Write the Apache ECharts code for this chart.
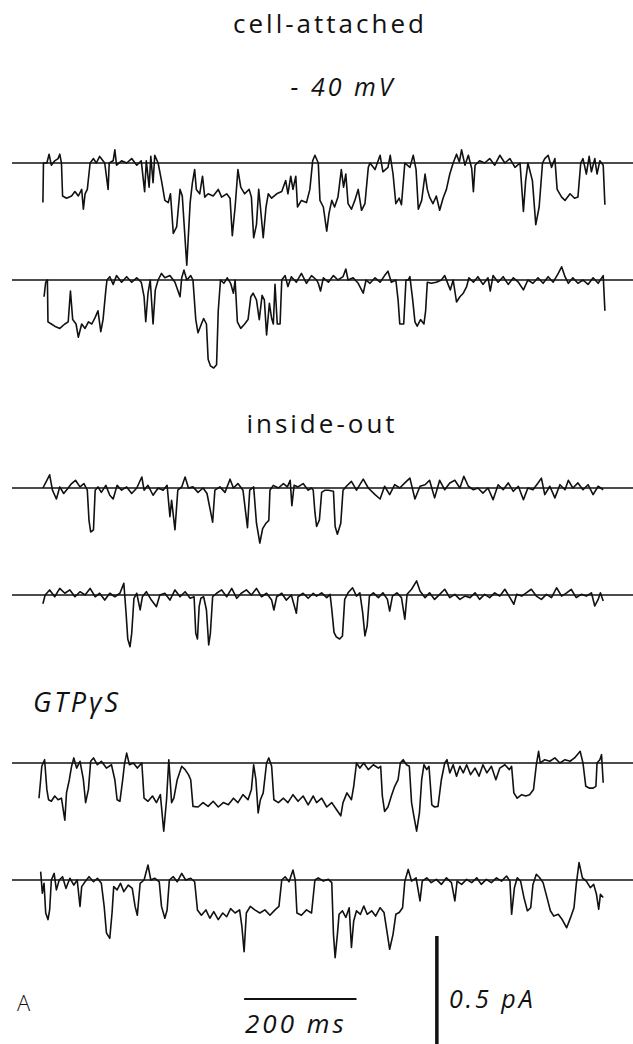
<!DOCTYPE html>
<html>
<head>
<meta charset="utf-8">
<script src="https://cdn.jsdelivr.net/npm/echarts@6/dist/echarts.min.js"></script>
<style>
  html, body { margin: 0; padding: 0; background: #fff; }
  #chart { width: 633px; height: 1044px; }
  /* the figure's lettering is widely tracked */
  #chart text { letter-spacing: 3px; }
</style>
</head>
<body>
<div id="chart"></div>
<script>
/** single-channel current traces: [time (ms), current (pA)] */
const cellAttached1 = [[0,-0.18],[1,0],[7,0],[11,0.04],[15,-0.01],[21,0.01],[27,0.02],[30,0.04],[33,0],[35,-0.15],[42,-0.16],[51,-0.15],[57,-0.13],[63,-0.15],[69,-0.12],[72,-0.21],[75,-0.14],[79,-0.12],[84,0],[90,0.02],[95,0],[101,0.03],[110,0],[116,-0.12],[118,0],[125,0.01],[128,0.06],[131,-0.01],[140,0.01],[149,0],[158,0.02],[167,-0.01],[175,0.01],[181,-0.13],[184,0.01],[189,-0.11],[192,0.03],[196,-0.09],[199,0.035],[205,0],[211,-0.08],[217,-0.17],[223,-0.18],[227,-0.14],[232,-0.32],[238,-0.29],[244,-0.12],[248,-0.15],[256,-0.465],[262,-0.18],[266,-0.09],[270,-0.03],[273,-0.12],[279,-0.14],[284,-0.06],[288,-0.155],[294,-0.14],[303,-0.15],[312,-0.12],[318,-0.155],[327,-0.14],[333,-0.16],[337,-0.33],[342,-0.2],[347,-0.03],[352,-0.11],[359,-0.14],[367,-0.12],[371,-0.155],[375,-0.34],[380,-0.28],[384,-0.12],[387,-0.2],[392,-0.34],[397,-0.2],[401,-0.14],[407,-0.16],[416,-0.14],[425,-0.13],[432,-0.08],[436,-0.14],[441,-0.06],[445,-0.12],[450,-0.06],[453,-0.2],[460,-0.17],[469,-0.18],[475,-0.12],[480,0.01],[484,0.035],[490,0],[493,-0.17],[499,-0.2],[505,-0.31],[509,-0.23],[514,-0.17],[519,-0.2],[525,-0.155],[531,-0.03],[535,-0.11],[539,-0.05],[543,-0.185],[549,-0.21],[555,-0.17],[561,-0.12],[567,-0.215],[573,-0.185],[579,-0.02],[582,0],[591,-0.03],[600,0.035],[605,-0.04],[614,-0.02],[618,0.035],[623,-0.05],[628,-0.185],[634,-0.16],[638,-0.19],[644,0],[653,-0.02],[659,0.035],[664,-0.03],[668,-0.21],[674,-0.17],[680,-0.05],[684,-0.12],[688,-0.155],[694,-0.185],[700,-0.15],[706,-0.215],[712,-0.16],[718,-0.12],[724,-0.05],[730,0],[736,0.04],[741,0.005],[745,0.06],[751,-0.01],[757,0.035],[763,-0.025],[766,-0.13],[769,-0.01],[777,0.01],[786,0],[795,0.02],[804,-0.01],[813,0.035],[822,0],[831,0.02],[840,-0.02],[849,0],[855,-0.22],[859,-0.08],[863,0],[871,-0.08],[877,-0.28],[883,-0.2],[889,0],[893,0.02],[899,0.035],[905,-0.02],[911,0.02],[915,-0.12],[923,-0.155],[929,-0.17],[938,-0.14],[946,-0.16],[952,-0.155],[957,0],[961,0.02],[967,-0.05],[972,0.03],[976,-0.04],[982,0.02],[986,-0.05],[991,0.01],[997,-0.01],[1000,-0.19]];

const cellAttached2 = [[2,-0.076],[5,-0.01],[8,0],[9,-0.19],[15,-0.2],[21,-0.21],[30,-0.22],[39,-0.2],[45,-0.19],[49,-0.05],[53,-0.18],[59,-0.2],[63,-0.26],[69,-0.2],[75,-0.22],[81,-0.19],[87,-0.2],[93,-0.17],[98,-0.14],[103,-0.235],[107,-0.18],[112,-0.045],[114,0],[119,0.015],[125,-0.02],[131,0.02],[140,-0.01],[149,0.015],[158,-0.01],[167,0.01],[175,-0.01],[180,-0.076],[183,-0.19],[187,-0.06],[191,0],[196,-0.2],[200,-0.045],[205,0],[211,0.03],[217,0.01],[226,0.02],[235,-0.01],[244,-0.076],[247,0.01],[251,0.045],[256,0],[263,0.02],[267,0],[272,-0.18],[276,-0.24],[282,-0.2],[286,-0.175],[291,-0.2],[294,-0.36],[298,-0.39],[304,-0.4],[309,-0.385],[312,-0.14],[316,0],[322,-0.015],[328,0.01],[334,-0.015],[339,-0.06],[342,0],[346,-0.19],[352,-0.22],[359,-0.2],[365,-0.18],[370,-0.076],[374,-0.06],[380,-0.09],[385,-0.18],[390,-0.07],[394,-0.09],[398,-0.25],[403,-0.106],[407,-0.175],[410,-0.2],[413,-0.02],[417,-0.2],[422,-0.2],[425,0],[431,0.02],[436,-0.03],[442,0.015],[451,-0.01],[460,0.03],[469,-0.015],[478,0.02],[487,0],[490,-0.015],[494,-0.05],[499,0.01],[508,-0.01],[517,0.02],[525,0],[534,0.015],[539,0.05],[543,0],[552,0.01],[561,-0.015],[570,-0.06],[575,0],[582,-0.015],[591,0.01],[600,-0.01],[608,0.02],[614,0.04],[620,-0.01],[628,0],[632,-0.09],[635,-0.2],[642,-0.2],[646,0],[650,0],[653,0.015],[658,-0.09],[662,-0.19],[666,-0.21],[672,-0.18],[678,-0.2],[681,-0.14],[684,-0.01],[691,-0.015],[700,-0.01],[709,0],[715,0.02],[721,-0.02],[725,-0.045],[730,0],[736,-0.1],[742,-0.076],[748,-0.06],[754,-0.03],[758,0.01],[766,-0.01],[774,0.015],[783,-0.02],[792,0.01],[796,-0.05],[801,0.02],[810,-0.01],[819,0.015],[828,-0.02],[837,0.01],[846,-0.01],[855,-0.045],[863,0],[872,-0.015],[881,0.01],[890,-0.015],[899,0.015],[908,-0.01],[917,0.03],[923,0.06],[929,0.015],[935,-0.015],[943,0.01],[952,-0.015],[961,0],[970,-0.02],[979,0.01],[988,-0.015],[997,0.02],[1000,-0.14]];

const insideOut1 = [[0,0],[7,0.035],[12,0.06],[17,-0.01],[24,-0.05],[30,0.005],[37,-0.025],[45,0],[51,0.02],[58,0.035],[66,0.005],[73,0.02],[79,-0.01],[82,-0.147],[85,-0.2],[90,-0.19],[93,-0.01],[98,0.005],[104,-0.02],[112,0.012],[119,-0.033],[125,-0.05],[132,0.012],[140,-0.01],[149,0.005],[158,-0.025],[167,0],[176,0.05],[180,-0.01],[187,0.012],[196,-0.033],[205,0],[214,-0.01],[221,0.012],[226,-0.13],[229,-0.056],[235,-0.19],[240,-0.01],[247,0.005],[253,0.05],[259,0],[267,0.005],[276,-0.02],[285,0],[292,-0.025],[302,-0.155],[306,-0.01],[315,0.005],[324,-0.02],[333,0.04],[339,0],[347,0.02],[356,-0.01],[364,-0.18],[368,-0.01],[375,0.005],[380,-0.16],[386,-0.25],[391,-0.185],[397,-0.16],[402,-0.147],[404,-0.01],[410,0.012],[419,0],[428,0.02],[435,0.005],[440,0.035],[443,-0.08],[447,0.012],[454,0.005],[463,0.02],[472,-0.01],[478,0],[481,-0.01],[484,-0.11],[487,-0.175],[492,-0.145],[496,-0.02],[502,-0.01],[508,-0.01],[517,-0.015],[520,-0.175],[524,-0.21],[530,-0.16],[534,-0.01],[540,0.008],[549,0.03],[558,-0.01],[570,0.04],[579,0],[591,-0.03],[600,-0.05],[608,0.008],[617,-0.03],[626,0.015],[635,0],[644,0.023],[653,0.045],[662,-0.05],[671,0.008],[680,0.015],[688,0.035],[697,-0.045],[706,0.035],[715,-0.008],[724,0.023],[733,0.035],[742,0],[749,0.053],[757,0.008],[766,-0.008],[774,0],[783,-0.023],[792,0],[801,-0.053],[810,0.015],[819,-0.008],[828,0.023],[837,-0.015],[846,0.008],[855,-0.053],[863,0],[872,-0.008],[881,0.023],[887,0.045],[893,-0.03],[902,0.008],[911,-0.045],[920,0.015],[929,-0.008],[935,0.035],[943,0],[952,0.023],[961,-0.008],[970,0.015],[979,-0.03],[988,0.008],[997,-0.008]];

const insideOut2 = [[0,-0.04],[4,0],[12,0.023],[21,-0.008],[30,0.03],[39,0.008],[48,0.023],[57,-0.008],[66,0.015],[75,0],[84,0.03],[93,-0.008],[101,0.008],[110,-0.023],[119,0.008],[128,-0.008],[137,0.008],[144,0.053],[148,-0.083],[151,-0.2],[155,-0.235],[158,-0.174],[162,-0.015],[167,0.008],[173,-0.068],[177,-0.008],[184,0.015],[193,-0.023],[202,-0.053],[208,0],[217,0.008],[226,-0.023],[235,0.023],[244,-0.008],[253,0.015],[262,-0.015],[269,-0.008],[272,-0.174],[275,-0.2],[278,-0.053],[281,-0.015],[286,-0.008],[291,-0.068],[295,-0.227],[298,-0.174],[302,-0.008],[309,0.008],[318,0.023],[327,-0.008],[336,0.03],[345,-0.015],[353,0.008],[362,0.023],[371,0],[380,0.03],[389,-0.008],[398,0.008],[407,-0.023],[411,-0.068],[416,-0.008],[425,0.008],[433,-0.023],[442,0],[451,-0.083],[454,-0.008],[463,0.008],[472,-0.015],[481,0.008],[487,-0.005],[496,0.01],[505,-0.012],[511,0.003],[514,-0.065],[518,-0.17],[522,-0.19],[528,-0.2],[533,-0.186],[537,-0.02],[543,0.01],[551,0.033],[558,-0.005],[564,0.01],[569,-0.08],[573,-0.186],[577,-0.14],[581,-0.005],[588,0.01],[597,-0.012],[605,0.01],[613,-0.02],[617,-0.073],[622,-0.005],[630,0.01],[638,-0.012],[644,-0.11],[648,0.003],[656,0.026],[665,0.064],[671,0.018],[680,-0.012],[688,0.01],[697,-0.02],[706,0.003],[715,0.026],[724,-0.012],[733,0.003],[742,-0.02],[751,-0.005],[760,-0.012],[769,0.01],[777,-0.02],[786,0.003],[795,-0.012],[804,0.01],[813,-0.005],[822,0.026],[831,-0.012],[838,-0.042],[843,0.003],[852,-0.005],[860,0.01],[869,0.026],[878,-0.005],[887,-0.02],[896,0.003],[905,-0.012],[914,0.033],[923,-0.005],[932,0.01],[940,0.026],[949,-0.012],[958,0.003],[967,-0.005],[976,0.01],[982,-0.05],[988,-0.02],[992,0.01],[997,-0.027]];

const gtpGammaS1 = [[-7,-0.16],[-4,-0.076],[-2,-0.015],[3,0.015],[7,-0.12],[10,-0.167],[15,-0.174],[21,-0.15],[27,-0.167],[33,-0.16],[39,-0.26],[42,-0.136],[47,-0.076],[51,-0.015],[55,0.023],[60,-0.023],[66,0.008],[72,-0.076],[76,-0.18],[81,-0.12],[85,0.008],[90,0.023],[97,-0.008],[104,0.008],[113,-0.023],[122,-0.008],[128,-0.076],[132,-0.167],[137,-0.174],[142,-0.076],[145,-0.008],[149,0.045],[154,-0.008],[161,0],[168,-0.023],[176,0],[180,-0.16],[187,-0.174],[195,-0.15],[202,-0.18],[209,-0.144],[215,-0.31],[220,-0.167],[224,0.015],[229,-0.18],[233,-0.16],[239,-0.076],[247,-0.015],[253,-0.03],[259,-0.053],[263,-0.076],[267,-0.197],[276,-0.2],[285,-0.18],[294,-0.197],[303,-0.174],[312,-0.2],[321,-0.18],[330,-0.19],[339,-0.16],[347,-0.18],[356,-0.144],[365,-0.167],[371,-0.12],[375,-0.008],[379,-0.076],[383,-0.227],[387,-0.167],[392,-0.136],[398,0],[402,0.023],[407,-0.015],[411,-0.167],[419,-0.18],[428,-0.16],[436,-0.18],[445,-0.144],[454,-0.174],[463,-0.15],[472,-0.19],[481,-0.15],[487,-0.18],[496,-0.16],[505,-0.2],[514,-0.18],[522,-0.21],[530,-0.24],[534,-0.18],[541,-0.136],[549,-0.167],[553,-0.106],[558,0],[564,-0.023],[571,0],[579,-0.03],[588,-0.008],[597,-0.023],[601,-0.015],[604,-0.15],[608,-0.22],[614,-0.2],[620,-0.15],[626,-0.106],[632,-0.076],[636,0],[641,0.015],[647,-0.008],[652,-0.015],[656,-0.18],[660,-0.24],[665,-0.31],[670,-0.227],[674,-0.076],[678,-0.008],[683,-0.03],[687,-0.015],[692,-0.19],[697,-0.2],[703,-0.197],[709,-0.076],[715,0],[719,0.015],[724,-0.045],[730,-0.008],[736,-0.06],[742,-0.015],[748,-0.045],[754,-0.008],[761,-0.053],[769,-0.023],[776,-0.06],[783,-0.008],[790,-0.045],[798,-0.015],[806,-0.076],[813,-0.023],[822,-0.008],[830,-0.03],[834,-0.015],[838,-0.136],[844,-0.16],[852,-0.144],[859,-0.15],[866,-0.144],[873,-0.12],[878,-0.008],[882,0.053],[885,0],[893,0.015],[902,0.008],[911,0.023],[920,0],[929,0.015],[938,0.008],[946,0.023],[956,0.053],[961,0],[966,-0.106],[972,-0.114],[979,-0.114],[984,-0.106],[986,0],[991,0.015],[994,0.038],[997,-0.09]];

const gtpGammaS2 = [[-4,0.038],[-1,-0.06],[2,-0.015],[5,-0.15],[9,-0.18],[12,-0.136],[15,0],[20,0.03],[24,-0.045],[29,0],[35,0.015],[41,-0.038],[48,0.008],[55,-0.023],[61,0],[66,-0.12],[69,-0.03],[75,-0.008],[82,0.015],[90,-0.008],[97,0.008],[104,-0.015],[109,-0.12],[113,-0.24],[119,-0.265],[123,-0.15],[126,-0.03],[132,-0.045],[138,-0.015],[144,-0.053],[152,-0.023],[159,-0.038],[164,-0.12],[168,-0.16],[173,-0.015],[180,0],[187,0.068],[192,0],[199,0.008],[207,-0.008],[211,-0.12],[217,-0.174],[221,-0.136],[225,0],[232,0.015],[239,-0.008],[247,0.03],[254,0],[263,0.008],[270,-0.008],[275,-0.136],[282,-0.16],[290,-0.136],[297,-0.174],[304,-0.144],[312,-0.18],[320,-0.15],[327,-0.167],[334,-0.13],[342,-0.15],[350,-0.136],[354,-0.21],[358,-0.326],[362,-0.15],[369,-0.12],[377,-0.136],[386,-0.15],[395,-0.136],[404,-0.16],[413,-0.136],[420,-0.12],[425,0],[431,0.015],[438,-0.008],[445,0.045],[449,0],[452,-0.15],[460,-0.16],[469,-0.136],[478,-0.15],[484,0],[490,0.01],[499,-0.005],[508,0.003],[514,-0.012],[517,-0.247],[520,-0.353],[524,-0.247],[527,-0.156],[533,-0.14],[539,-0.17],[545,-0.126],[549,-0.307],[553,-0.186],[558,-0.14],[565,-0.156],[571,-0.118],[577,-0.156],[585,-0.14],[592,-0.164],[600,-0.126],[607,-0.148],[613,-0.247],[617,-0.315],[623,-0.247],[628,-0.156],[634,-0.148],[640,-0.126],[644,-0.005],[650,0.048],[656,-0.005],[664,0.01],[671,-0.095],[675,-0.005],[683,0.01],[691,-0.012],[700,0.003],[709,-0.02],[718,0.01],[727,-0.012],[733,-0.095],[737,-0.005],[745,-0.02],[754,0.003],[763,-0.012],[772,0.01],[780,-0.02],[789,0.003],[798,-0.012],[807,0.01],[816,-0.005],[825,0.018],[831,-0.005],[834,-0.156],[839,-0.035],[844,0.01],[850,-0.005],[856,-0.08],[862,-0.14],[868,-0.126],[872,-0.02],[878,0.026],[884,0.01],[890,-0.012],[897,-0.08],[903,-0.14],[909,-0.164],[917,-0.156],[924,-0.18],[932,-0.217],[939,-0.17],[945,-0.126],[949,-0.02],[954,0.079],[960,0.01],[967,-0.005],[974,-0.035],[980,-0.02],[985,-0.065],[989,-0.133],[992,-0.065],[997,-0.08]];

const traces = [cellAttached1, cellAttached2, insideOut1, insideOut2, gtpGammaS1, gtpGammaS2];

/** calibration */
const scaleTime = 200;    // ms
const scaleCurrent = 0.5; // pA

/** layout */
const pxPerPA = 220;
const pageHeight = 1044;
const traceBaselines = [163, 280, 488, 595, 763, 880];
const timeRange = [-55, 1050];
const gridLeft = 12;
const gridWidth = 621;
const ink = "#111";
const font = "'Open Sans', Lato, sans-serif";

const grids = [];
const xAxes = [];
const yAxes = [];
const series = [];

const addGrid = (top, height, yMin, yMax) => {
  grids.push({ left: gridLeft, width: gridWidth, top, height });
  xAxes.push({ type: "value", min: timeRange[0], max: timeRange[1], show: false, gridIndex: grids.length - 1 });
  yAxes.push({ type: "value", min: yMin, max: yMax, show: false, gridIndex: grids.length - 1 });
  return grids.length - 1;
};

/** one grid per trace, same ms/px and pA/px everywhere */
traces.forEach((trace, i) => {
  const idx = addGrid(traceBaselines[i] - 0.1 * pxPerPA, 0.7 * pxPerPA, -0.6, 0.1);
  series.push({
    type: "line",
    xAxisIndex: idx,
    yAxisIndex: idx,
    data: trace,
    showSymbol: false,
    clip: false,
    lineStyle: { color: ink, width: 1.6, join: "round" },
    markLine: {
      silent: true,
      symbol: "none",
      label: { show: false },
      lineStyle: { color: ink, width: 1.6, type: "solid" },
      data: [{ yAxis: 0 }],
    },
  });
});

/** scale bars: grids kept inside the page so the pA/px ratio holds */
const timeBarTop = 999;
const timeBarIdx = addGrid(timeBarTop, 20, -20 / pxPerPA, 0);
series.push({
  type: "line",
  xAxisIndex: timeBarIdx,
  yAxisIndex: timeBarIdx,
  data: [[358, 0], [358 + scaleTime, 0]],
  showSymbol: false,
  clip: false,
  lineStyle: { color: ink, width: 2 },
});
const currentBarTop = 936;
const currentBarIdx = addGrid(currentBarTop, pageHeight - currentBarTop, -(pageHeight - currentBarTop) / pxPerPA, 0);
series.push({
  type: "line",
  xAxisIndex: currentBarIdx,
  yAxisIndex: currentBarIdx,
  data: [[701, 0], [701, -scaleCurrent]],
  showSymbol: false,
  clip: false,
  lineStyle: { color: ink, width: 3.5 },
});

const label = (text, x, y, size, italic, align = "center", weight = 400) => ({
  type: "text",
  x,
  y,
  style: {
    text,
    fill: ink,
    font: `${italic ? "italic " : ""}${weight} ${size}px ${font}`,
    textAlign: align,
    textVerticalAlign: "middle",
  },
});

const option = {
  animation: false,
  backgroundColor: "#fff",
  grid: grids,
  xAxis: xAxes,
  yAxis: yAxes,
  series,
  graphic: [
    label("cell-attached", 330, 23, 26, false),
    label("- 40 mV", 343, 86, 25, true),
    label("inside-out", 322, 423, 26, false),
    label("GTPγS", 33, 701, 27, true, "left"),
    label("A", 17, 1002, 22, false, "left", 300),
    label("200 ms", 245, 1023, 26, true, "left"),
    label("0.5 pA", 449, 998, 25, true, "left"),
  ],
};

const chart = echarts.init(document.getElementById("chart"), undefined, { renderer: "svg" });
chart.setOption(option);
</script>
</body>
</html>
